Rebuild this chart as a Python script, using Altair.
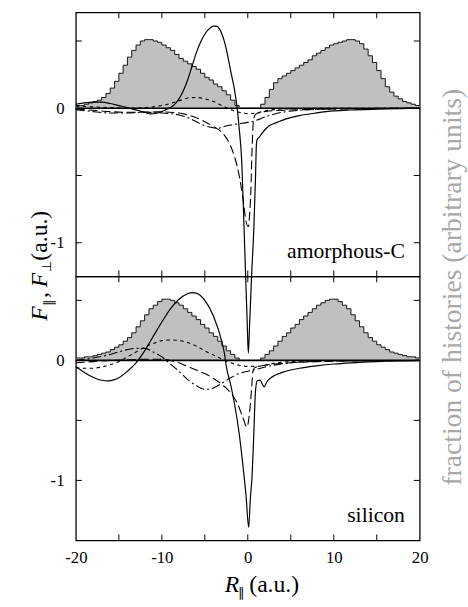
import altair as alt
import pandas as pd

# ---------------- data ----------------
bin_left = [-20 + 0.5 * i for i in range(80)]

hist_top = [0.02, 0.02, 0.03, 0.04, 0.05, 0.06, 0.08, 0.11, 0.15, 0.20,
            0.26, 0.32, 0.38, 0.43, 0.47, 0.50, 0.51, 0.51, 0.50, 0.49,
            0.47, 0.45, 0.43, 0.40, 0.37, 0.35, 0.33, 0.31, 0.29, 0.26,
            0.23, 0.21, 0.18, 0.16, 0.13, 0.10, 0.06, 0.02, 0.0, 0.0,
            0.0, 0.0, 0.0, 0.03, 0.08, 0.14, 0.19, 0.22, 0.24, 0.26,
            0.28, 0.30, 0.32, 0.34, 0.36, 0.39, 0.41, 0.43, 0.45, 0.47,
            0.48, 0.49, 0.50, 0.51, 0.51, 0.50, 0.48, 0.44, 0.39, 0.34,
            0.28, 0.22, 0.16, 0.12, 0.09, 0.07, 0.05, 0.04, 0.03, 0.02]

hist_bot = [0.02, 0.02, 0.03, 0.03, 0.04, 0.05, 0.06, 0.07, 0.09, 0.11,
            0.13, 0.16, 0.19, 0.23, 0.28, 0.33, 0.38, 0.43, 0.46, 0.49,
            0.51, 0.51, 0.50, 0.48, 0.46, 0.43, 0.40, 0.37, 0.34, 0.30,
            0.27, 0.23, 0.20, 0.16, 0.12, 0.08, 0.05, 0.02, 0.0, 0.0,
            0.0, 0.0, 0.0, 0.02, 0.05, 0.08, 0.12, 0.16, 0.20, 0.23,
            0.27, 0.30, 0.34, 0.37, 0.40, 0.43, 0.46, 0.48, 0.50, 0.51,
            0.51, 0.49, 0.46, 0.43, 0.38, 0.33, 0.28, 0.23, 0.19, 0.16,
            0.13, 0.11, 0.09, 0.07, 0.06, 0.05, 0.04, 0.03, 0.03, 0.02]

# amorphous-C curves
ac_solid_x = [-20, -19, -18, -17, -16, -15, -14, -13, -12, -11.3, -10.5, -10, -9.5, -9, -8.5,
              -8, -7.5, -7, -6.5, -6, -5.5, -5, -4.5, -4, -3.7, -3.3, -3, -2.5, -2, -1.5,
              -1.2, -1.0, -0.7, -0.44, -0.25, -0.06, 0.06, 0.21, 0.44, 0.71, 0.9, 1.0, 1.1,
              1.28, 1.6, 2.0, 2.5, 3.0, 3.6, 4, 5, 6, 8, 10, 12, 15, 20]
ac_solid_y = [0.03, 0.04, 0.045, 0.045, 0.035, 0.02, 0.005, -0.012, -0.03, -0.042, -0.035, -0.025, -0.01, 0.005, 0.03,
              0.07, 0.13, 0.21, 0.31, 0.41, 0.49, 0.55, 0.59, 0.61, 0.61, 0.59, 0.55, 0.44, 0.28, 0.12,
              -0.02, -0.15, -0.4, -0.88, -1.25, -1.61, -1.82, -1.61, -1.25, -0.88, -0.51, -0.27, -0.23,
              -0.22, -0.19, -0.16, -0.13, -0.115, -0.1, -0.09, -0.07, -0.055, -0.035, -0.02, -0.013, -0.007, 0.0]

ac_ldash_x = [-20, -18, -16, -14, -12, -10, -8, -7, -6, -5, -4, -3, -2.5, -2, -1.5, -1, -0.5, -0.2,
              0.05, 0.2, 0.35, 0.5, 0.65, 0.85, 1.2, 2, 4, 8, 20]
ac_ldash_y = [-0.005, -0.015, -0.025, -0.03, -0.028, -0.027, -0.035, -0.05, -0.07, -0.1, -0.135, -0.18,
              -0.22, -0.28, -0.37, -0.5, -0.7, -0.84, -0.88, -0.8, -0.62, -0.3, -0.1, -0.05, -0.035,
              -0.025, -0.015, -0.008, 0.0]

ac_sdash_x = [-20, -18, -16, -14, -12, -10, -9, -8, -7, -6, -5, -4, -3, -2, -1, 0, 1, 2, 3, 5, 10, 20]
ac_sdash_y = [0.015, 0.01, 0.005, 0.0, 0.005, 0.02, 0.035, 0.055, 0.075, 0.08, 0.07, 0.05, 0.02,
              -0.01, -0.03, -0.04, -0.035, -0.02, -0.01, -0.004, 0.0, 0.0]

ac_dd_x = [-20, -18, -16, -14, -12, -10, -8, -7, -6, -5, -4, -3.5, -3, -2, -1, 0, 1, 2, 3, 4, 6, 8, 12, 20]
ac_dd_y = [-0.01, -0.025, -0.035, -0.035, -0.03, -0.035, -0.05, -0.07, -0.1, -0.13, -0.145, -0.15, -0.14,
           -0.125, -0.115, -0.105, -0.09, -0.065, -0.045, -0.03, -0.015, -0.008, -0.003, 0.0]

# silicon curves
si_solid_x = [-20, -19, -18, -17, -16.3, -15.5, -15, -14, -13, -12, -11, -10, -9, -8, -7, -6.5, -6,
              -5, -4, -3, -2.7, -2.5, -2, -1.5, -1, -0.5, -0.2, 0.1, 0.3, 0.5, 0.7, 0.9, 1.1,
              1.45, 1.7, 1.9, 2.2, 2.6, 3, 4, 5, 6, 8, 10, 12, 15, 20]
si_solid_y = [-0.05, -0.1, -0.14, -0.165, -0.17, -0.16, -0.145, -0.09, -0.02, 0.08, 0.2, 0.32, 0.43,
              0.51, 0.555, 0.565, 0.56, 0.5, 0.37, 0.15, 0.05, -0.05, -0.2, -0.38, -0.61, -0.92,
              -1.13, -1.39, -1.15, -0.96, -0.61, -0.25, -0.17, -0.165, -0.2, -0.22, -0.18, -0.15,
              -0.13, -0.1, -0.08, -0.065, -0.045, -0.03, -0.02, -0.01, -0.003]

si_ldash_x = [-20, -18, -16, -14, -12, -10, -9, -8, -7, -6, -5, -4, -3, -2, -1.2, -0.6, -0.1, 0.15,
              0.45, 0.6, 0.8, 1.2, 2, 4, 8, 20]
si_ldash_y = [-0.02, -0.01, 0.0, 0.005, 0.01, 0.01, 0.0, -0.02, -0.05, -0.08, -0.11, -0.15, -0.2, -0.27,
              -0.36, -0.47, -0.555, -0.47, -0.23, -0.09, -0.06, -0.05, -0.04, -0.025, -0.01, 0.0]

si_sdash_x = [-20, -19, -18, -17, -16, -15, -14, -13, -12, -11, -10, -9, -8, -7, -6, -5, -4, -3, -2,
              -1, 0, 1, 2, 3, 5, 8, 20]
si_sdash_y = [-0.06, -0.065, -0.065, -0.055, -0.035, -0.01, 0.03, 0.07, 0.11, 0.14, 0.165, 0.17, 0.165,
              0.15, 0.12, 0.08, 0.045, 0.01, -0.02, -0.04, -0.05, -0.05, -0.04, -0.025, -0.01, -0.004, 0.0]

si_dd_x = [-20, -18, -16, -14, -13, -12, -11, -10, -9, -8, -7, -6, -5, -4.5, -4, -3, -2, -1, 0, 1, 2,
           3, 4.35, 6, 10, 20]
si_dd_y = [0.0, 0.02, 0.05, 0.09, 0.1, 0.1, 0.07, 0.03, -0.03, -0.09, -0.16, -0.21, -0.24, -0.24,
           -0.23, -0.19, -0.145, -0.11, -0.09, -0.075, -0.055, -0.04, -0.025, -0.015, -0.005, 0.0]

y_ticks = [0.5, 0.0, -0.5, -1.0]
x_ticks = [-15, -10, -5, 0, 5, 10, 15]

# ---------------- layout ----------------
W = 349
H = 268
FONT = "'Liberation Serif', 'Times New Roman', serif"
DASHES = {"ldash": [9, 4], "sdash": [3.5, 3.5], "dd": [9, 3, 2, 3]}


def panel(hist, curves, y_domain, label, show_x_axis):
    xs = alt.Scale(domain=[-20, 20], nice=False, zero=False)
    ys = alt.Scale(domain=y_domain, nice=False, zero=False)
    hx = bin_left + [20.0]
    hy = hist + [hist[-1]]
    hdf = pd.DataFrame({"x": hx, "y": hy})
    if show_x_axis:
        xaxis = alt.Axis(values=[-20, -10, 0, 10, 20], title=None, ticks=False, domain=False,
                         grid=False, labelPadding=9, labelFlush=False,
                         labelFont=FONT, labelFontSize=17, labelColor="black",
                         labelExpr="datum.value < 0 ? '-' + abs(datum.value) : '' + datum.value")
    else:
        xaxis = None
    yaxis = alt.Axis(values=[-1, 0], title=None, ticks=False, domain=False, grid=False,
                     labelPadding=12, labelFont=FONT, labelFontSize=17, labelColor="black",
                     labelExpr="datum.value < 0 ? '-1' : '0'")

    area = alt.Chart(hdf).mark_area(interpolate="step-after", color="#c0c0c0", opacity=1).encode(
        x=alt.X("x:Q", scale=xs, axis=xaxis),
        y=alt.Y("y:Q", scale=ys, axis=yaxis),
    )
    hline = alt.Chart(hdf).mark_line(interpolate="step-after", color="black", strokeWidth=0.9).encode(
        x=alt.X("x:Q", scale=xs, title=None),
        y=alt.Y("y:Q", scale=ys, title=None),
    )
    zero = alt.Chart(pd.DataFrame({"y": [0.0]})).mark_rule(color="black", strokeWidth=1.6).encode(
        y=alt.Y("y:Q", scale=ys, title=None), x=alt.value(0), x2=alt.value(W)
    )
    layers = [area, hline, zero]
    for (cx, cy, kind) in curves:
        cdf = pd.DataFrame({"x": cx, "y": cy})
        kw = dict(color="black", strokeWidth=1.2, interpolate="monotone", clip=False)
        if kind != "solid":
            kw["strokeDash"] = DASHES[kind]
            kw["strokeWidth"] = 1.1
        layers.append(
            alt.Chart(cdf).mark_line(**kw).encode(
                x=alt.X("x:Q", scale=xs, title=None),
                y=alt.Y("y:Q", scale=ys, title=None),
            )
        )
    ytdf = pd.DataFrame({"y": y_ticks})
    xtdf = pd.DataFrame({"x": x_ticks})
    for (a, b) in [(0, 6), (W - 6, W)]:
        layers.append(alt.Chart(ytdf).mark_rule(color="black", strokeWidth=1).encode(
            y=alt.Y("y:Q", scale=ys, title=None), x=alt.value(a), x2=alt.value(b)))
    for (a, b) in [(0, 6), (H - 6, H)]:
        layers.append(alt.Chart(xtdf).mark_rule(color="black", strokeWidth=1).encode(
            x=alt.X("x:Q", scale=xs, title=None), y=alt.value(a), y2=alt.value(b)))
    layers.append(
        alt.Chart(pd.DataFrame({"t": [label]})).mark_text(
            font=FONT, fontSize=22, align="right", baseline="alphabetic", color="black"
        ).encode(text="t:N", x=alt.value(W - 15), y=alt.value(H - 19))
    )
    return layers


def txt(s, x, y, size, style="normal", color="black", angle=270, align="left"):
    return alt.Chart(pd.DataFrame({"t": [s]})).mark_text(
        font=FONT, fontSize=size, fontStyle=style, color=color, angle=angle,
        align=align, baseline="alphabetic"
    ).encode(text="t:N", x=alt.value(x), y=alt.value(y))


top_layers = panel(hist_top,
                   [(ac_dd_x, ac_dd_y, "dd"), (ac_sdash_x, ac_sdash_y, "sdash"),
                    (ac_ldash_x, ac_ldash_y, "ldash"), (ac_solid_x, ac_solid_y, "solid")],
                   [-1.25, 0.713], "amorphous-C", False)

# axis titles as text pieces (positions relative to the top panel)
top_layers += [
    txt("F", -29, 313, 24, "italic"),
    txt("\u2225", -23, 298, 13),
    txt(",", -29, 290, 24),
    txt("F", -29, 279, 24, "italic"),
    txt("\u22a5", -25, 264, 13),
    txt("(a.u.)", -29, 252, 24),
    txt("fraction of histories (arbitrary units)", W + 42, 279, 28, color="#a8a8a8",
        align="center"),
]

bot_layers = panel(hist_bot,
                   [(si_dd_x, si_dd_y, "dd"), (si_sdash_x, si_sdash_y, "sdash"),
                    (si_ldash_x, si_ldash_y, "ldash"), (si_solid_x, si_solid_y, "solid")],
                   [-1.5, 0.7], "silicon", True)

bot_layers += [
    txt("R", 151, 320, 24, "italic", angle=0),
    txt("\u2225", 165, 325, 13, angle=0),
    txt("(a.u.)", 176, 320, 24, angle=0),
]

top = alt.layer(*top_layers).properties(width=W, height=H)
bot = alt.layer(*bot_layers).properties(width=W, height=H)

chart = alt.vconcat(top, bot, spacing=0, bounds="flush").properties(
    padding={"left": 28, "top": 6, "right": 0, "bottom": 0},
    background="white",
).configure_view(stroke="black", strokeWidth=1.3)

chart.save("out.html", embed_options={"renderer": "svg", "actions": False})
